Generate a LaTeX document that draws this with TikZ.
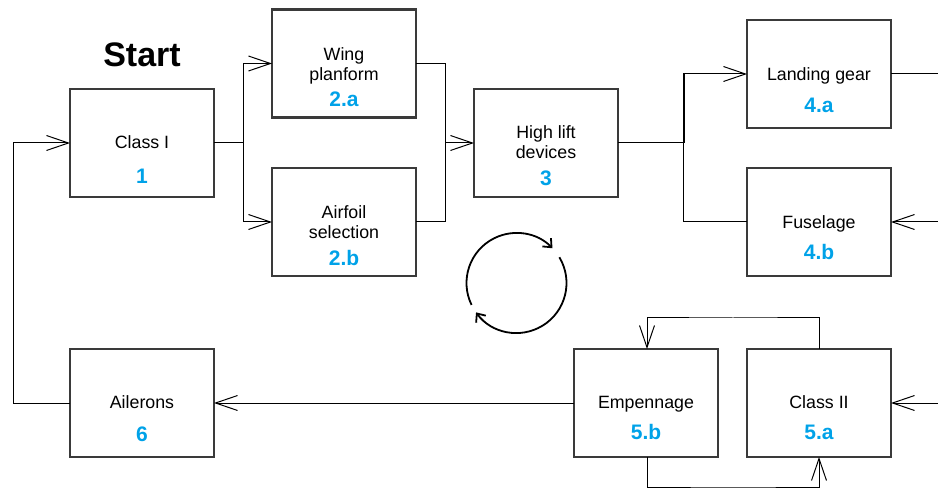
\documentclass[tikz,border=0pt]{standalone}
\usepackage{fontspec}
\setmainfont{Liberation Sans}
\usetikzlibrary{arrows.meta}
\definecolor{numblue}{RGB}{0,162,232}
\definecolor{boxgray}{RGB}{58,58,58}
\begin{document}
\begin{tikzpicture}[x=1pt,y=1pt,
  box/.style={draw=boxgray,line width=2.4pt,minimum width=144pt,minimum height=108pt,inner sep=0pt,outer sep=0pt},
  lbl/.style={font=\fontsize{17.8}{20}\selectfont,align=center,inner sep=0pt,text=black,anchor=base},
  num/.style={font=\bfseries\fontsize{21}{24}\selectfont,text=numblue,inner sep=0pt,anchor=base},
  conn/.style={line width=1pt,black},
  arr/.style={conn,-{Straight Barb[length=22pt,width=15pt,line width=1pt]}},
  carr/.style={line width=1.8pt,-{Straight Barb[length=7pt,width=12pt,line width=1.8pt]}}]
\useasboundingbox (0,0) rectangle (938,488);
% boxes
\node[box] (c1)  at (142,345) {};
\node[box] (w2a) at (344,424.5) {};
\node[box] (a2b) at (344,266) {};
\node[box] (h3)  at (546,345) {};
\node[box] (l4a) at (819,414) {};
\node[box] (f4b) at (819,266) {};
\node[box] (a6)  at (142,85) {};
\node[box] (e5b) at (646,85) {};
\node[box] (c5a) at (819,85) {};
% labels
\node[font=\bfseries\fontsize{34}{36}\selectfont] (start) at (142,433) {Start};
\node[lbl] (t1) at (142,339) {Class I};
\node[num] (n1) at (142,304) {1};
\node[lbl] (t2a) at (344,407.5) {Wing\\planform};
\node[num] (n2a) at (344,381) {2.a};
\node[lbl] (t2b) at (344,249.5) {Airfoil\\selection};
\node[num] (n2b) at (344,222.5) {2.b};
\node[lbl] (t3) at (546,329) {High lift\\devices};
\node[num] (n3) at (546,302) {3};
\node[lbl] (t4a) at (819,407.5) {Landing gear};
\node[num] (n4a) at (819,375) {4.a};
\node[lbl] (t4b) at (819,259.5) {Fuselage};
\node[num] (n4b) at (819,228) {4.b};
\node[lbl] (t6) at (142,79.5) {Ailerons};
\node[num] (n6) at (142,47) {6};
\node[lbl] (t5b) at (646,79.5) {Empennage};
\node[num] (n5b) at (646,48.5) {5.b};
\node[lbl] (t5a) at (819,79.5) {Class II};
\node[num] (n5a) at (819,48.5) {5.a};
% connectors
\coordinate (b1) at (243,345);
\draw[conn] (c1.east) -- (b1);
\draw[arr] (b1) |- (w2a.west);
\draw[arr] (b1) |- (a2b.west);
\coordinate (b2) at (445,345);
\draw[conn] (w2a.east) -| (b2);
\draw[conn] (a2b.east) -| (b2);
\draw[arr] (b2) -- (h3.west);
\coordinate (b3) at (683,345);
\draw[conn] (h3.east) -- (b3);
\draw[arr] (b3) |- (l4a.west);
\draw[line width=2pt] ([xshift=0.5pt]b3) -- ([xshift=0.5pt]b3 |- l4a.west);
\draw[conn] (b3) |- (f4b.west);
\coordinate (r1) at (938,414);
\draw[conn] (l4a.east) -- (r1);
\coordinate (r2) at (938,266);
\draw[arr] (r2) -- (f4b.east);
\coordinate (r3) at (938,85);
\draw[arr] (r3) -- (c5a.east);
\coordinate (top) at (733,170);
\draw[arr] (c5a.north) |- (top) -| ([xshift=1pt]e5b.north);
\coordinate (bot) at (733,1);
\draw[arr] ([xshift=1pt]e5b.south) |- (bot) -| (c5a.south);
\draw[arr] (e5b.west) -- (a6.east);
\coordinate (l1) at (13,200);
\draw[conn] (a6.west) -| (l1);
\draw[arr] (l1) |- (c1.west);
% cycle symbol
\coordinate (cc) at (516.5,205);
\draw[carr] ([shift={(206:50)}]cc) arc[start angle=206,end angle=44,radius=50];
\draw[carr] ([shift={(31:50)}]cc) arc[start angle=31,end angle=-144,radius=50];
\end{tikzpicture}
\end{document}
